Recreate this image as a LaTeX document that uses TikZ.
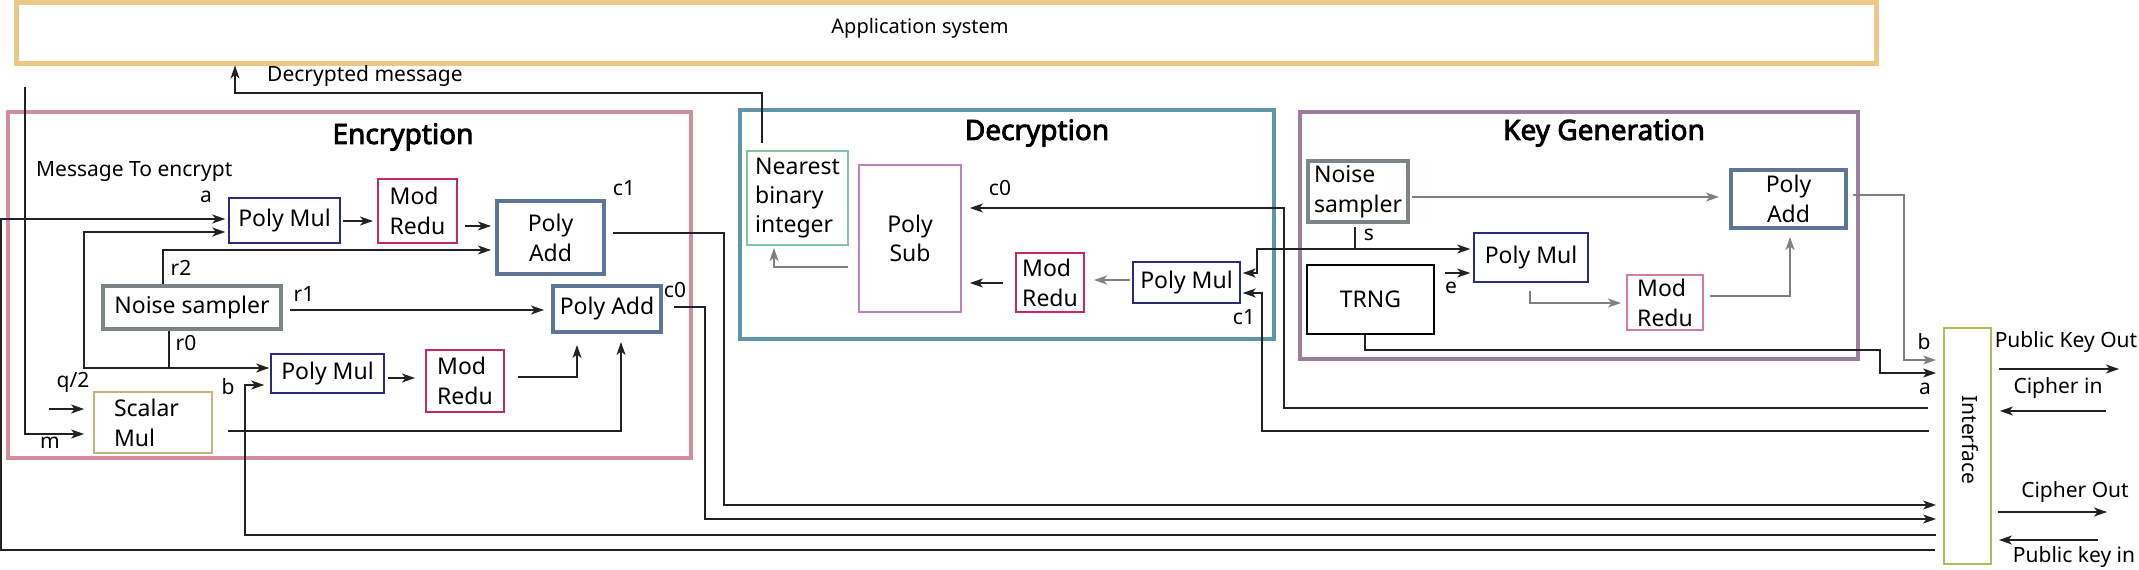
\documentclass[tikz,border=0pt]{standalone}
\usepackage{fontspec}
\setmainfont{Noto Sans}[AutoFakeBold=3]
\usetikzlibrary{arrows.meta,calc}
\definecolor{appc}{HTML}{EAC885}
\definecolor{encc}{HTML}{D48C9E}
\definecolor{decc}{HTML}{5E96A8}
\definecolor{kgc}{HTML}{9C7E9C}
\definecolor{pmc}{HTML}{2B2B7E}
\definecolor{mrc}{HTML}{C42A5C}
\definecolor{mrk}{HTML}{D27AA6}
\definecolor{pac}{HTML}{5C7699}
\definecolor{nsc}{HTML}{7C8686}
\definecolor{smc}{HTML}{C8B27A}
\definecolor{nbc}{HTML}{84C4A2}
\definecolor{psc}{HTML}{B884C0}
\definecolor{ifc}{HTML}{A8C05C}
\definecolor{lnc}{HTML}{222222}
\begin{document}
\begin{tikzpicture}[x=1pt,y=-1pt,
  box/.style={draw, inner sep=0pt, align=center, font=\fontsize{23}{30}\selectfont, line width=1.5pt},
  sz/.style 2 args={minimum width=#1pt, minimum height=#2pt},
  frame/.style={draw, inner sep=0pt, line width=3.5pt},
  lbl/.style={inner sep=0pt, font=\fontsize{21}{26}\selectfont},
  ttl/.style={inner sep=0pt, font=\fontsize{28}{32}\selectfont\bfseries},
  arr/.style={-{Stealth[length=13pt,width=9pt,inset=3.5pt]}, line width=1.4pt, draw=lnc},
  ln/.style={line width=1.4pt, draw=lnc},
  pmbox/.style={box, draw=pmc, line width=1.5pt},
  mrbox/.style={box, draw=mrc, line width=2pt, align=left},
  pabox/.style={box, draw=pac, line width=4pt},
  nsbox/.style={box, draw=nsc, line width=4.5pt}
]
\useasboundingbox (0,0) rectangle (2139,570);

% frames
\node[frame, draw=appc, line width=5pt, sz={1860}{61}] (app) at (946,32.5) {};
\node[inner sep=0pt, font=\fontsize{20}{24}\selectfont] (apptxt) at (920,28) {Application system};
\node[frame, draw=encc, sz={683}{346}] (encF) at (349.5,285) {};
\node[ttl] (encT) at (403,137) {Encryption};
\node[frame, draw=decc, sz={534}{229}] (decF) at (1007,224.5) {};
\node[ttl] (decT) at (1037,133) {Decryption};
\node[frame, draw=kgc, sz={558}{247}] (kgF) at (1579,235.5) {};
\node[ttl] (kgT) at (1604,133) {Key Generation};

% encryption blocks
\node[pmbox, sz={111}{45}] (encPM1) at (284.5,220.5) {Poly Mul};
\node[mrbox, sz={79}{64}] (encMR1) at (417.5,211) {Mod\\Redu};
\node[pabox, sz={107}{73}] (encPA1) at (550.5,237.5) {Poly\\Add};
\node[nsbox, sz={178}{43}] (encNS) at (192,307.5) {Noise sampler};
\node[pabox, sz={108}{46}] (encPA0) at (607,309) {Poly Add};
\node[pmbox, sz={113}{39}] (encPM2) at (327.5,373.5) {Poly Mul};
\node[mrbox, sz={78}{62}] (encMR2) at (465,381) {Mod\\Redu};
\node[box, draw=smc, line width=1.8pt, align=left, inner xsep=20pt, text width=78pt, minimum height=61pt] (encSM) at (153,422.5) {Scalar\\Mul};

% decryption blocks
\node[box, draw=nbc, line width=2pt, align=left, sz={101}{94}, font=\fontsize{23}{29}\selectfont] (decNB) at (797.5,198) {Nearest\\binary\\integer};
\node[box, draw=psc, line width=1.8pt, sz={102}{147}, font=\fontsize{23}{29}\selectfont] (decPS) at (910,238.5) {Poly\\Sub};
\node[mrbox, sz={68}{59}] (decMR) at (1050,282.5) {Mod\\Redu};
\node[pmbox, sz={107}{41}] (decPM) at (1186.5,282.5) {Poly Mul};

% key generation blocks
\node[nsbox, sz={100}{61}, align=left] (kgNS) at (1358,191.5) {Noise\\sampler};
\node[pabox, sz={115}{58}] (kgPA) at (1788.5,199) {Poly\\Add};
\node[pmbox, sz={114}{49}] (kgPM) at (1531,257.5) {Poly Mul};
\node[box, draw=black, line width=2.5pt, sz={127}{69}] (kgTRNG) at (1370.5,299.5) {TRNG};
\node[mrbox, draw=mrk, sz={76}{55}] (kgMR) at (1665,302.5) {Mod\\Redu};

% interface
\node[box, draw=ifc, line width=1.8pt, sz={47}{236}] (iface) at (1967.5,446) {};
\node[lbl, rotate=-90] (ifacetxt) at (1970,440) {Interface};

% labels
\node[lbl, anchor=west] (ldm) at (267,76) {Decrypted message};
\node[lbl, anchor=west] (lmsg) at (36,172) {Message To encrypt};
\node[lbl] at (206,197) {a};
\node[lbl] at (181,268) {r2};
\node[lbl] at (304,294) {r1};
\node[lbl] at (186,343) {r0};
\node[lbl] at (73,382) {q/2};
\node[lbl] at (50,443) {m};
\node[lbl] at (228,387) {b};
\node[lbl] at (624,188) {c1};
\node[lbl] at (675,290) {c0};
\node[lbl] at (1000,188) {c0};
\node[lbl] at (1244,317) {c1};
\node[lbl] at (1369,235) {s};
\node[lbl] at (1451,288) {e};
\node[lbl] at (1924,342) {b};
\node[lbl] at (1925,389) {a};
\node[lbl] at (2066,342) {Public Key Out};
\node[lbl] at (2058,388) {Cipher in};
\node[lbl] at (2075,492) {Cipher Out};
\node[lbl] at (2074,557) {Public key in};

% coordinates for free ends and junctions
\coordinate (qin) at (49,409);
\coordinate (min) at (25,87);
\coordinate (jr0) at (169,368);
\coordinate (js) at (1355,249);
\coordinate (pko) at (2119,369);
\coordinate (cin) at (2106,411);
\coordinate (cout) at (2107,512);
\coordinate (pkin) at (2098,540);

% decrypted message
\draw[arr, shorten <=7pt] (decNB.north -| 762,0) |- (235,93) -- (app.south -| 235,0);

% encryption connectors
\draw[arr, shorten <=8pt, shorten >=3pt] (iface.west |- 0,550) -| (1,219) -- (encPM1.west |- 0,219);
\draw[arr, shorten >=1pt] (encNS.south -| jr0) |- (encPM2.west |- jr0);
\draw[arr, shorten >=3pt] (jr0) -| (84,232) -- (encPM1.west |- 0,232);
\draw[arr, shorten >=4pt] (encNS.north -| 163,0) |- (encPA1.west |- 0,250);
\draw[arr, shorten <=7pt, shorten >=7pt] (encNS.east |- 0,310) -- (encPA0.west |- 0,310);
\draw[arr, shorten <=2pt, shorten >=4pt] (encPM1.east |- 0,221) -- (encMR1.west |- 0,221);
\draw[arr, shorten <=7pt, shorten >=4pt] (encMR1.east |- 0,226) -- (encPA1.west |- 0,226);
\draw[arr, shorten <=3pt, shorten >=10pt] (encPM2.east |- 0,378) -- (encMR2.west |- 0,378);
\draw[arr, shorten <=13pt, shorten >=11pt] (encMR2.east |- 0,377) -| (encPA0.south -| 577,0);
\draw[arr, shorten <=15pt, shorten >=8pt] (encSM.east |- 0,431) -| (encPA0.south -| 621,0);
\draw[arr, shorten >=9pt] (qin) -- (encSM.west |- qin);
\draw[arr, shorten >=9pt] (min) |- (encSM.west |- 0,434);
\draw[arr, shorten <=7pt, shorten >=6pt] (iface.west |- 0,535) -| (245,385) -- (encPM2.west |- 0,385);
\draw[arr, shorten <=7pt, shorten >=7pt] (encPA1.east |- 0,233) -| (724,505) -- (iface.west |- 0,505);
\draw[arr, shorten <=11pt, shorten >=7pt] (encPA0.east |- 0,307) -| (705,519) -- (iface.west |- 0,519);

% decryption connectors
\draw[arr, draw=gray, shorten <=10pt, shorten >=2pt] (decPS.west |- 0,267) -| (decNB.south -| 774,0);
\draw[arr, shorten <=15pt, shorten >=8pt] (iface.west |- 0,408) -| (1284,208) -- (decPS.east |- 0,208);
\draw[arr, shorten <=14pt, shorten >=2pt] (iface.west |- 0,431) -| (1262,293) -- (decPM.east |- 0,293);
\draw[arr, shorten <=3pt, shorten >=3pt] (kgNS.south -| js) |- (kgPM.west |- js);
\draw[arr, shorten >=2pt] (js) -| (1257,273) -- (decPM.east |- 0,273);
\draw[arr, draw=gray, shorten <=2pt, shorten >=9pt] (decPM.west |- 0,280) -- (decMR.east |- 0,280);
\draw[arr, shorten <=12pt, shorten >=8pt] (decMR.west |- 0,283) -- (decPS.east |- 0,283);

% key generation connectors
\draw[arr, draw=gray, shorten <=2pt, shorten >=10pt] (kgNS.east |- 0,197) -- (kgPA.west |- 0,197);
\draw[arr, shorten <=10pt, shorten >=3pt] (kgTRNG.east |- 0,273) -- (kgPM.west |- 0,273);
\draw[arr, draw=gray, shorten <=8pt, shorten >=5pt] (kgPM.south -| 1530,0) |- (kgMR.west |- 0,303);
\draw[arr, draw=gray, shorten <=6pt, shorten >=7pt] (kgMR.east |- 0,296) -| (kgPA.south -| 1790,0);
\draw[arr, draw=gray, shorten <=5pt, shorten >=7pt] (kgPA.east |- 0,195) -| (1904,360) -- (iface.west |- 0,360);
\draw[arr, shorten >=7pt] (kgTRNG.south -| 1365,0) |- (1880,350) |- (iface.west |- 0,373);

% interface outside
\draw[arr, shorten <=7pt] (iface.east |- pko) -- (pko);
\draw[arr, shorten >=8pt] (cin) -- (iface.east |- cin);
\draw[arr, shorten <=6pt] (iface.east |- cout) -- (cout);
\draw[arr, shorten >=7pt] (pkin) -- (iface.east |- pkin);
\end{tikzpicture}
\end{document}
